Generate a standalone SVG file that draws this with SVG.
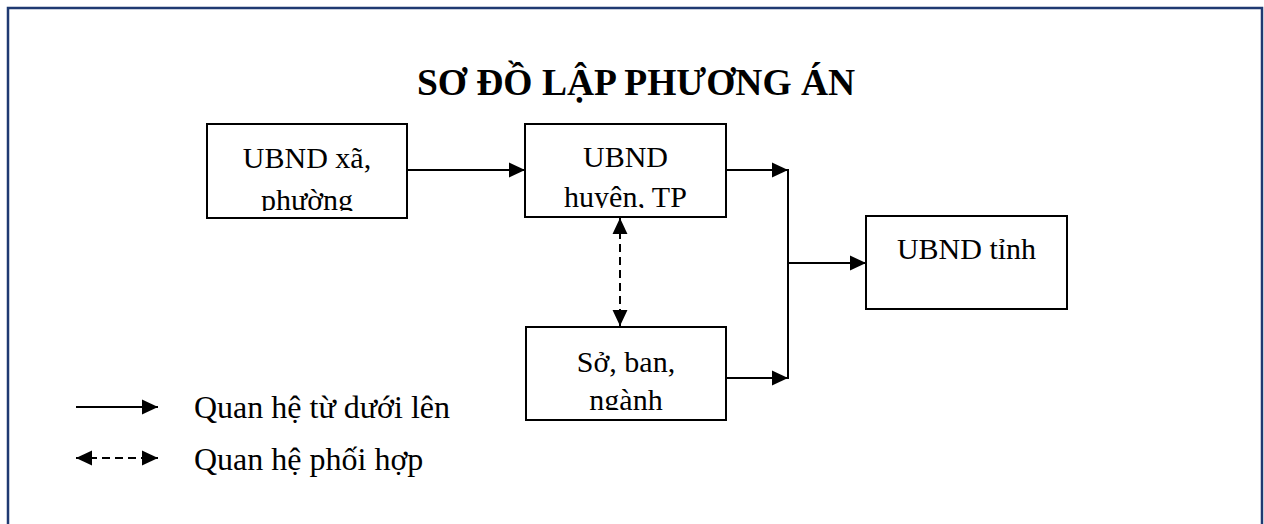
<svg xmlns="http://www.w3.org/2000/svg" width="1264" height="524" viewBox="0 0 1264 524">
  <style>
    .box { fill: #ffffff; stroke: #000000; stroke-width: 2; }
    .lbl { font-family: "Liberation Serif", "Times New Roman", serif; font-size: 30px; fill: #000000; text-anchor: middle; }
    .leg { font-family: "Liberation Serif", "Times New Roman", serif; font-size: 32px; fill: #000000; }
    .title { font-family: "Liberation Serif", "Times New Roman", serif; font-size: 37.5px; font-weight: bold; fill: #000000; text-anchor: middle; }
    .edge { fill: none; stroke: #000000; stroke-width: 2; }
    .dash { fill: none; stroke: #000000; stroke-width: 2; stroke-dasharray: 8 5; }
  </style>
  <defs>
    <marker id="ah" markerUnits="userSpaceOnUse" markerWidth="16" markerHeight="16" viewBox="0 0 15 14" refX="15" refY="7" orient="auto-start-reverse">
      <path d="M0,0 L15,7 L0,14 z" fill="#000000"/>
    </marker>
    <clipPath id="c1"><rect x="207" y="124" width="200" height="87"/></clipPath>
    <clipPath id="c2"><rect x="525" y="124" width="201" height="84"/></clipPath>
    <clipPath id="c3"><rect x="526" y="327" width="200" height="83"/></clipPath>
  </defs>

  <rect x="0" y="0" width="1264" height="524" fill="#ffffff"/>
  <path d="M8,526 L8,8 L1262,8 L1262,526" fill="none" stroke="#1f3a72" stroke-width="2.5"/>

  <text class="title" x="636" y="95">SƠ ĐỒ LẬP PHƯƠNG ÁN</text>

  <g id="connectors">
    <line class="edge" x1="408" y1="170" x2="525" y2="170" marker-end="url(#ah)"/>
    <line class="edge" x1="727" y1="170" x2="788" y2="170" marker-end="url(#ah)"/>
    <line class="edge" x1="727" y1="378" x2="788" y2="378" marker-end="url(#ah)"/>
    <line class="edge" x1="788" y1="169" x2="788" y2="379"/>
    <line class="edge" x1="789" y1="263" x2="866" y2="263" marker-end="url(#ah)"/>
    <line class="dash" x1="620" y1="218" x2="620" y2="326" marker-start="url(#ah)" marker-end="url(#ah)"/>
  </g>

  <g id="node-xa">
    <rect class="box" x="207" y="124" width="200" height="94"/>
    <g clip-path="url(#c1)">
      <text class="lbl" x="307" y="168">UBND xã,</text>
      <text class="lbl" x="307" y="210">phường</text>
    </g>
  </g>

  <g id="node-huyen">
    <rect class="box" x="525" y="124" width="201" height="93"/>
    <g clip-path="url(#c2)">
      <text class="lbl" x="625.5" y="167">UBND</text>
      <text class="lbl" x="625.5" y="207">huyện, TP</text>
    </g>
  </g>

  <g id="node-so">
    <rect class="box" x="526" y="327" width="200" height="93"/>
    <g clip-path="url(#c3)">
      <text class="lbl" x="626" y="372">Sở, ban,</text>
      <text class="lbl" x="626" y="410">ngành</text>
    </g>
  </g>

  <g id="node-tinh">
    <rect class="box" x="866" y="216" width="201" height="93"/>
    <text class="lbl" x="966.5" y="259">UBND tỉnh</text>
  </g>

  <g id="legend">
    <line class="edge" x1="76" y1="407" x2="158" y2="407" marker-end="url(#ah)"/>
    <text class="leg" x="194" y="418">Quan hệ từ dưới lên</text>
    <line class="dash" x1="76" y1="458" x2="158" y2="458" marker-start="url(#ah)" marker-end="url(#ah)"/>
    <text class="leg" x="194" y="470">Quan hệ phối hợp</text>
  </g>
</svg>
